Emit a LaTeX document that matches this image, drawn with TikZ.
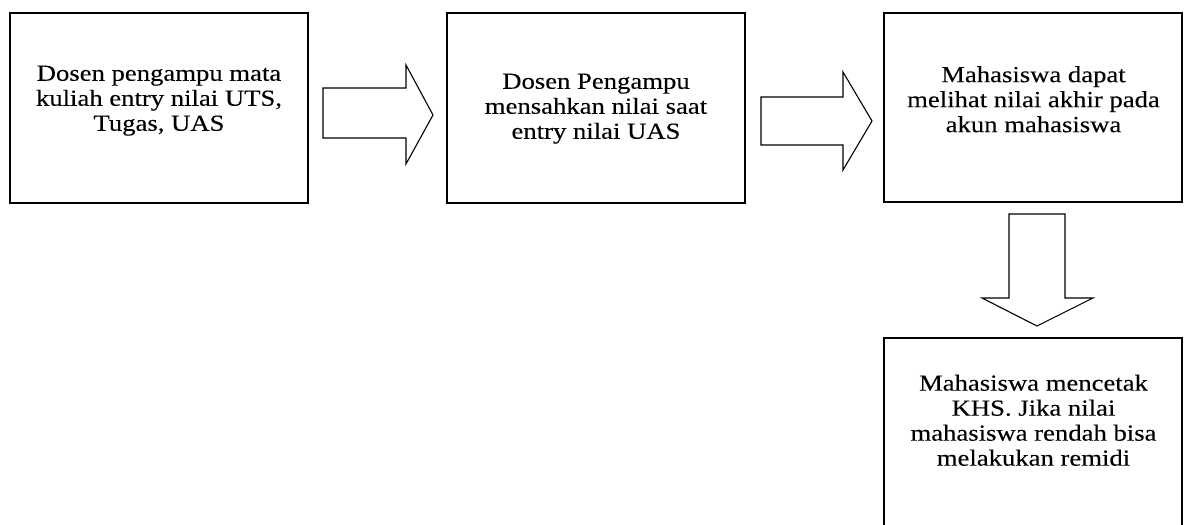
\documentclass[tikz,border=0pt]{standalone}
\usepackage{fontspec}
\setmainfont{Liberation Serif}[FakeStretch=1.16, FakeBold=0.2]
\begin{document}
\begin{tikzpicture}[x=1pt,y=-1pt,
  stepbox/.style={draw, line width=1.6pt, inner sep=0pt, outer sep=0pt,
    minimum width=298pt, anchor=north west},
  blockarrow/.style={draw, line width=1.1pt, line join=miter},
  boxtext/.style={align=center, font=\fontsize{23}{25}\selectfont,
    inner sep=0pt, anchor=north}]
\clip (0,0) rectangle (1187,525);

% process boxes
\node[stepbox, minimum height=190pt] (b1) at (10,13) {};
\node[stepbox, minimum height=190pt] (b2) at (447,13) {};
\node[stepbox, minimum height=189pt] (b3) at (884,13) {};
\node[stepbox, minimum height=220pt] (b4) at (884,338) {};

% box texts
\node[boxtext] (t1) at (159,65.5) {Dosen pengampu mata\\kuliah entry nilai UTS,\\Tugas, UAS};
\node[boxtext] (t2) at (596,73.5) {Dosen Pengampu\\mensahkan nilai saat\\entry nilai UAS};
\node[boxtext] (t3) at (1033.5,66) {Mahasiswa dapat\\melihat nilai akhir pada\\akun mahasiswa};
\node[boxtext] (t4) at (1033.5,374.5) {Mahasiswa mencetak\\KHS. Jika nilai\\mahasiswa rendah bisa\\melakukan remidi};

% block arrows between the boxes
\draw[blockarrow] (323,88) -- (406,88) -- (406,65) -- (433,115)
  -- (406,164) -- (406,138) -- (323,138) -- cycle;
\draw[blockarrow] (761,97) -- (843,97) -- (843,72) -- (872,121)
  -- (843,170) -- (843,145) -- (761,145) -- cycle;
\draw[blockarrow] (1009,214) -- (1065,214) -- (1065,298) -- (1093,298)
  -- (1037,326) -- (982,298) -- (1009,298) -- cycle;
\end{tikzpicture}
\end{document}
